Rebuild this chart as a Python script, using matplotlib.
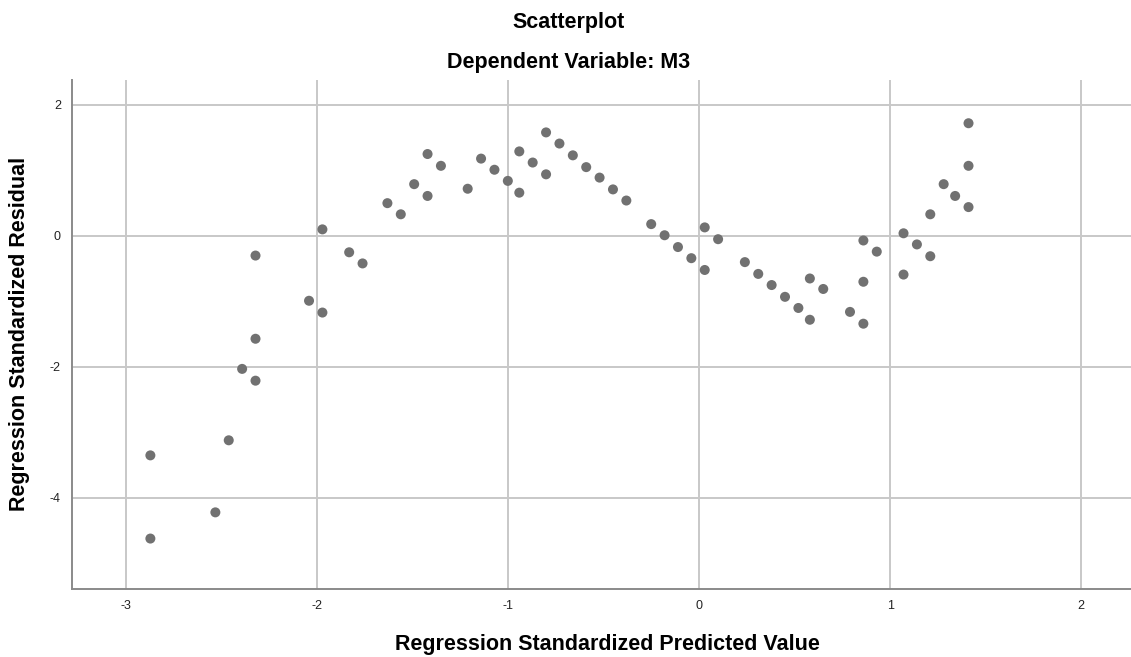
import matplotlib.pyplot as plt

plt.rcParams['font.family'] = ['Liberation Sans', 'DejaVu Sans']

# Standardized predicted values (x) and standardized residuals (y)
pred = [
    -2.32, -2.04, -1.97, -1.97, -1.83, -1.76, -1.63, -1.56, -1.49, -1.42, -1.42, -1.35,
    -1.21, -1.14, -1.07, -1.00, -0.94, -0.94, -0.87, -0.80, -0.80, -0.73, -0.66, -0.59,
    -0.52, -0.45, -0.38,
    -0.25, -0.18, -0.11, -0.04, 0.03, 0.03, 0.10, 0.24, 0.31, 0.38, 0.45, 0.52, 0.58,
    0.58, 0.65,
    0.79, 0.86, 0.86, 0.86, 0.93, 1.07, 1.07, 1.14, 1.21, 1.21, 1.28, 1.34, 1.41, 1.41,
    1.41,
    -2.32, -2.39, -2.32, -2.46, -2.87, -2.53, -2.87,
]
resid = [
    -0.30, -0.99, -1.17, 0.10, -0.25, -0.42, 0.50, 0.33, 0.79, 1.25, 0.61, 1.07,
    0.72, 1.18, 1.01, 0.84, 1.29, 0.66, 1.12, 1.58, 0.94, 1.41, 1.23, 1.05,
    0.89, 0.71, 0.54,
    0.18, 0.01, -0.17, -0.34, -0.52, 0.13, -0.05, -0.40, -0.58, -0.75, -0.93, -1.10, -1.28,
    -0.65, -0.81,
    -1.16, -1.34, -0.70, -0.07, -0.24, -0.59, 0.04, -0.13, -0.31, 0.33, 0.79, 0.61, 0.44, 1.07,
    1.72,
    -1.57, -2.03, -2.21, -3.12, -3.35, -4.22, -4.62,
]

x_ticks = [-3, -2, -1, 0, 1, 2]
y_ticks = [2, 0, -2, -4]

W, H = 1131, 657
fig = plt.figure(figsize=(W / 100, H / 100), dpi=100)
ax = fig.add_axes([72 / W, 1 - 589 / H, 1 - 72 / W, (589 - 80) / H])

ax.scatter(pred, resid, s=52, color='#717171', edgecolors='none', zorder=3)

ax.set_xlim(-3.28, 2.26)
ax.set_ylim(-5.39, 2.38)
ax.set_xticks(x_ticks)
ax.set_yticks(y_ticks)
ax.set_xticklabels([str(t) for t in x_ticks])
ax.set_yticklabels([str(t) for t in y_ticks])
ax.tick_params(length=0, labelsize=9, colors='#222222', pad=8)

ax.grid(True, color='#c8c8c8', linewidth=1.4, zorder=0)
ax.set_axisbelow(True)
for side in ['top', 'right']:
    ax.spines[side].set_visible(False)
for side in ['left', 'bottom']:
    ax.spines[side].set_color('#8a8a8a')
    ax.spines[side].set_linewidth(1.4)

# axis titles placed on the figure so they sit where the reference has them
fig.text(607 / W, 1 - 650 / H, 'Regression Standardized Predicted Value',
         ha='center', va='baseline', fontsize=15.5, fontweight='bold')
fig.text(20 / W, 1 - 334 / H, 'Regression Standardized Residual',
         ha='center', va='center', rotation=90, fontsize=15.5, fontweight='bold')

fig.text(569 / W, 1 - 28 / H, 'Scatterplot', ha='center', va='baseline',
         fontsize=15.5, fontweight='bold')
fig.text(569 / W, 1 - 68 / H, 'Dependent Variable: M3', ha='center', va='baseline',
         fontsize=15.5, fontweight='bold')

fig.savefig('out.png', dpi=100)
